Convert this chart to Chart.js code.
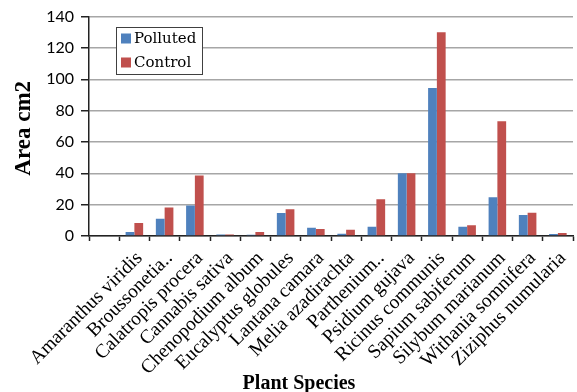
<!DOCTYPE html>
<html>
<head>
<meta charset="utf-8">
<script src="https://cdn.jsdelivr.net/npm/chart.js@4.4.1/dist/chart.umd.min.js"></script>
<style>
  html, body { margin: 0; padding: 0; background: #fff; }
  #wrap { width: 577px; height: 392px; position: relative; }
</style>
</head>
<body>
<div id="wrap"><canvas id="c" width="577" height="392"></canvas></div>
<script>
// Leaf area per species, first slot left blank on the axis
const species = ["", "Amaranthus viridis", "Broussonetia..", "Calatropis procera", "Cannabis sativa",
  "Chenopodium album", "Eucalyptus globules", "Lantana camara", "Melia azadirachta", "Parthenium..",
  "Psidium gujava", "Ricinus communis", "Sapium sabiferum", "Silybum marianum", "Withania somnifera",
  "Ziziphus numularia"];
const polluted = [null, 2.5, 11, 19.5, 1, 0.8, 14.6, 5.3, 1.5, 5.9, 40, 94.5, 5.9, 24.8, 13.4, 1.2];
const control  = [null, 8.3, 18.2, 38.6, 1, 2.5, 17, 4.5, 4, 23.5, 40, 130, 6.8, 73.2, 14.8, 1.9];
const yTicks = [0, 20, 40, 60, 80, 100, 120, 140];
const seriesNames = ["Polluted", "Control"];
const xTitle = "Plant Species";
const yTitle = "Area cm2";

const BLUE = "#4F81BD";
const RED = "#C0504D";

// White page behind the chart, axis titles and a boxed legend inside the plot
const decor = {
  id: "decor",
  beforeDraw(chart) {
    const ctx = chart.ctx;
    ctx.save();
    ctx.fillStyle = "#fff";
    ctx.fillRect(0, 0, chart.width, chart.height);
    ctx.restore();
  },
  afterDraw(chart) {
    const ctx = chart.ctx;
    const area = chart.chartArea;
    ctx.save();
    // y title
    ctx.fillStyle = "#000";
    ctx.font = "bold 23px 'Liberation Serif', serif";
    ctx.textAlign = "center";
    ctx.textBaseline = "middle";
    ctx.translate(24, (area.top + area.bottom) / 2 + 2);
    ctx.rotate(-Math.PI / 2);
    ctx.fillText(yTitle, 0, 0);
    ctx.restore();

    ctx.save();
    ctx.fillStyle = "#000";
    ctx.font = "bold 20px 'Liberation Serif', serif";
    ctx.textAlign = "center";
    ctx.textBaseline = "alphabetic";
    ctx.fillText(xTitle, 299, 389);
    ctx.restore();

    // legend
    ctx.save();
    const lx = 116.5, ly = 27.5, lw = 86, lh = 47;
    ctx.fillStyle = "#fff";
    ctx.fillRect(lx, ly, lw, lh);
    ctx.strokeStyle = "#404040";
    ctx.lineWidth = 1;
    ctx.strokeRect(lx, ly, lw, lh);
    ctx.font = "15px 'DejaVu Serif', serif";
    ctx.textAlign = "left";
    ctx.textBaseline = "middle";
    chart.data.datasets.forEach((ds, i) => {
      const cy = 38.5 + i * 24;
      ctx.fillStyle = ds.backgroundColor;
      ctx.fillRect(121, cy - 5, 10, 10);
      ctx.fillStyle = "#000";
      ctx.fillText(ds.label, 134, cy + 1);
    });
    ctx.restore();
  }
};

new Chart(document.getElementById("c"), {
  type: "bar",
  data: {
    labels: species,
    datasets: [
      { label: seriesNames[0], data: polluted, backgroundColor: BLUE,
        barPercentage: 1.0, categoryPercentage: 0.58 },
      { label: seriesNames[1], data: control, backgroundColor: RED,
        barPercentage: 1.0, categoryPercentage: 0.58 }
    ]
  },
  options: {
    responsive: false,
    animation: false,
    devicePixelRatio: 1,
    layout: { padding: { left: 0, right: 4, top: 16, bottom: 0 } },
    plugins: {
      legend: { display: false },
      tooltip: { enabled: false }
    },
    scales: {
      x: {
        offset: true,
        grid: {
          offset: true,
          drawOnChartArea: false,
          drawTicks: true,
          tickLength: 5,
          tickColor: "#222",
          tickWidth: 1.5
        },
        border: { color: "#222", width: 1.5 },
        ticks: {
          autoSkip: false,
          minRotation: 45,
          maxRotation: 45,
          padding: 6,
          labelOffset: 5,
          color: "#000",
          font: { family: "'Liberation Serif', serif", size: 19.5 }
        },
        afterFit(scale) {
          scale.height = 156;
          scale.paddingLeft = 0;
          scale.paddingRight = 0;
        }
      },
      y: {
        min: 0,
        max: 140,
        afterBuildTicks(scale) { scale.ticks = yTicks.map(v => ({ value: v })); },
        grid: {
          color: "#a6a6a6",
          lineWidth: 1.5,
          tickLength: 8,
          tickColor: "#222",
          tickWidth: 1.5
        },
        border: { color: "#222", width: 1.5 },
        ticks: {
          padding: 7,
          color: "#000",
          font: { family: "Lato, sans-serif", size: 16 }
        },
        afterFit(scale) { scale.width = 89; }
      }
    }
  },
  plugins: [decor]
});
</script>
</body>
</html>
